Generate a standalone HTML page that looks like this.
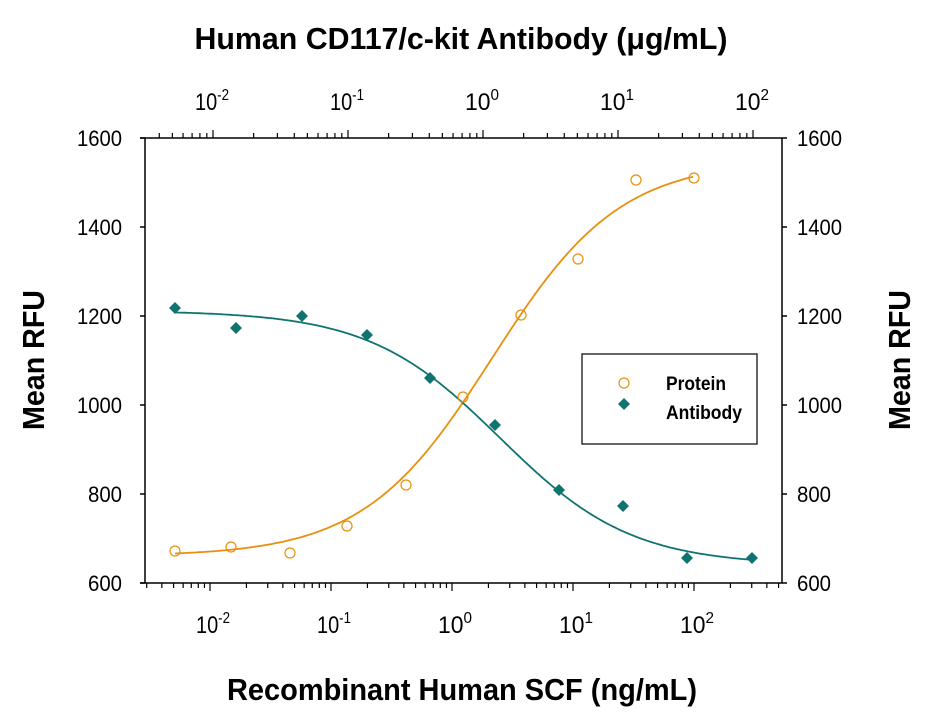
<!DOCTYPE html>
<html><head><meta charset="utf-8"><style>
html,body{margin:0;padding:0;background:#fff;}
svg text{font-family:"Liberation Sans",sans-serif;fill:#000;}
</style></head><body>
<svg id="s" width="926" height="717" xmlns="http://www.w3.org/2000/svg">
<rect width="926" height="717" fill="#fff"/>
<text x="461" y="49" text-anchor="middle" font-size="31" font-weight="bold" textLength="533" lengthAdjust="spacingAndGlyphs">Human CD117/c-kit Antibody (μg/mL)</text>
<text x="462" y="700" text-anchor="middle" font-size="31" font-weight="bold" textLength="470" lengthAdjust="spacingAndGlyphs">Recombinant Human SCF (ng/mL)</text>
<text transform="translate(44,360) rotate(-90)" text-anchor="middle" font-size="31" font-weight="bold" textLength="140" lengthAdjust="spacingAndGlyphs">Mean RFU</text>
<text transform="translate(910,360) rotate(-90)" text-anchor="middle" font-size="31" font-weight="bold" textLength="140" lengthAdjust="spacingAndGlyphs">Mean RFU</text>
<g id="g" stroke="#000" stroke-width="1.5" fill="none">
<line x1="145" y1="138" x2="145" y2="583"/>
<line x1="782" y1="138" x2="782" y2="583"/>
<line x1="140" y1="583" x2="782" y2="583"/>
<line x1="140" y1="138" x2="782" y2="138"/>
</g>
<g id="t"></g>
<g id="leg">
<rect x="582" y="354" width="175" height="90" fill="#fff" stroke="#000" stroke-width="1.2"/>
<circle cx="624" cy="383" r="5" fill="none" stroke="#e8900e" stroke-width="1.2"/>
<path d="M624,398 l6,6 l-6,6 l-6,-6z" fill="#0f7470"/>
<text x="666" y="390" font-size="19" font-weight="bold" textLength="60" lengthAdjust="spacingAndGlyphs">Protein</text>
<text x="666" y="419" font-size="19" font-weight="bold" textLength="76" lengthAdjust="spacingAndGlyphs">Antibody</text>
</g>
</svg>
<script>
var s=document.getElementById('t'),NS="http://www.w3.org/2000/svg";
function el(n,a,txt){var e=document.createElementNS(NS,n);for(var k in a)e.setAttribute(k,a[k]);if(txt!==undefined)e.textContent=txt;s.appendChild(e);return e;}
for(var v=600;v<=1600;v+=200){var y=583-(v-600)*0.445;
el('line',{x1:140,y1:y,x2:145,y2:y,stroke:'#000','stroke-width':1.5});
el('line',{x1:782,y1:y,x2:787,y2:y,stroke:'#000','stroke-width':1.5});
el('text',{x:122,y:y+8,'text-anchor':'end','font-size':22,textLength:v>=1000?45:34,lengthAdjust:'spacingAndGlyphs'},v);
el('text',{x:797,y:y+8,'font-size':22,textLength:v>=1000?45:34,lengthAdjust:'spacingAndGlyphs'},v);}
function bx(l){return 210+(l+2)*121;}
for(var d=-3;d<=2;d++)for(var m=1;m<10;m++){var x=bx(d+Math.log10(m));if(x<146||x>781)continue;
el('line',{x1:x,y1:583,x2:x,y2:583+(m==1?8:5),stroke:'#000','stroke-width':1.2});}
function tx(l){return 213+(l+2)*135;}
for(var d=-3;d<=2;d++)for(var m=1;m<10;m++){var x=tx(d+Math.log10(m));if(x<146||x>781)continue;
el('line',{x1:x,y1:138,x2:x,y2:138-(m==1?8:5),stroke:'#000','stroke-width':1.2});}
var ex=['-2','-1','0','1','2'];
for(var i=0;i<5;i++){
var x=bx(i-2),t=el('text',{x:x-14,y:633,'font-size':24,textLength:34,lengthAdjust:'spacingAndGlyphs'});t.innerHTML='10<tspan dy="-10" font-size="16">'+ex[i]+'</tspan>';
var x2=tx(i-2),t2=el('text',{x:x2-18,y:110,'font-size':24,textLength:34,lengthAdjust:'spacingAndGlyphs'});t2.innerHTML='10<tspan dy="-10" font-size="16">'+ex[i]+'</tspan>';}
function py(v){return 583-(v-600)*0.445;}
function curve(b,t,x0,h,x1,x2,col){var d='';for(var x=x1;x<=x2;x+=2){var f=1/(1+Math.pow(10,(x0-x)/121*h));var y=py(b+(t-b)*f);d+=(d?'L':'M')+x+','+y.toFixed(1);}
el('path',{d:d,fill:'none',stroke:col,'stroke-width':1.8});}
curve(660,1550,492,0.82,175,694,'#e8900e');
curve(1212,640,500,0.8,175,752,'#0f7470');
var P=[[175,551],[231,547],[290,553],[347,526],[406,485],[463,397],[521,315],[578,259],[636,180],[694,178]];
P.forEach(function(p){el('circle',{cx:p[0],cy:p[1],r:5,fill:'none',stroke:'#e8900e','stroke-width':1.2});});
var A=[[175,308],[236,328],[302,316],[367,335],[430,378],[495,425],[559,490],[623,506],[687,558],[752,558]];
A.forEach(function(p){el('path',{d:'M'+p[0]+','+(p[1]-6)+'l6,6l-6,6l-6,-6z',fill:'#0f7470'});});
</script>
</body></html>
